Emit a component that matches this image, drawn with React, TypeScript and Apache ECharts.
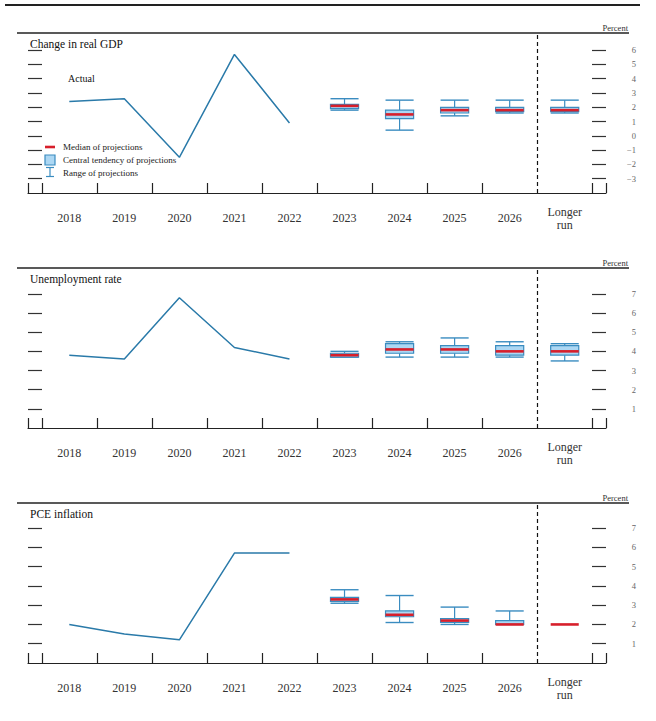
import React, { useEffect, useRef } from 'react';
import * as echarts from 'echarts';

const FONT = '"Liberation Serif", "Times New Roman", serif';

const categories = ['2018', '2019', '2020', '2021', '2022', '2023', '2024', '2025', '2026', 'Longer\nrun'];
const actualIdx = [0, 1, 2, 3, 4];
const projIdx = [5, 6, 7, 8, 9];

// Change in real GDP
const gdpActual = [2.4, 2.6, -1.5, 5.7, 0.9];
const gdpMedian = [2.1, 1.5, 1.8, 1.8, 1.8];
const gdpCTLow = [1.9, 1.2, 1.6, 1.7, 1.7];
const gdpCTHigh = [2.2, 1.8, 2.0, 2.0, 2.0];
const gdpRangeLow = [1.8, 0.4, 1.4, 1.6, 1.6];
const gdpRangeHigh = [2.6, 2.5, 2.5, 2.5, 2.5];
const gdpTicks = [-3, -2, -1, 0, 1, 2, 3, 4, 5, 6];

// Unemployment rate
const unActual = [3.8, 3.6, 6.8, 4.2, 3.6];
const unMedian = [3.8, 4.1, 4.1, 4.0, 4.0];
const unCTLow = [3.7, 3.9, 3.9, 3.8, 3.8];
const unCTHigh = [3.9, 4.4, 4.3, 4.3, 4.3];
const unRangeLow = [3.7, 3.7, 3.7, 3.7, 3.5];
const unRangeHigh = [4.0, 4.5, 4.7, 4.5, 4.4];
const unTicks = [1, 2, 3, 4, 5, 6, 7];

// PCE inflation
const pceActual = [2.0, 1.5, 1.2, 5.7, 5.7];
const pceMedian = [3.3, 2.5, 2.2, 2.0, 2.0];
const pceCTLow = [3.2, 2.4, 2.1, 2.0, null];
const pceCTHigh = [3.4, 2.7, 2.3, 2.2, null];
const pceRangeLow = [3.1, 2.1, 2.0, 2.0, null];
const pceRangeHigh = [3.8, 3.5, 2.9, 2.7, null];
const pceTicks = [1, 2, 3, 4, 5, 6, 7];

const xTicks = [-0.75, -0.5, 0.5, 1.5, 2.5, 3.5, 4.5, 5.5, 6.5, 7.5, 9.5, 9.75];

const LINE = '#2a7aa9';
const BLUE = '#3a8cc0';
const FILL = '#acd7f3';
const RED = '#d71f2b';

const panels = [
  { title: 'Change in real GDP', top: 33, min: -4, max: 7.2, ticks: gdpTicks, actual: gdpActual, med: gdpMedian, cl: gdpCTLow, ch: gdpCTHigh, rl: gdpRangeLow, rh: gdpRangeHigh },
  { title: 'Unemployment rate', top: 268, min: 0, max: 8.35, ticks: unTicks, actual: unActual, med: unMedian, cl: unCTLow, ch: unCTHigh, rl: unRangeLow, rh: unRangeHigh },
  { title: 'PCE inflation', top: 503, min: 0, max: 8.3, ticks: pceTicks, actual: pceActual, med: pceMedian, cl: pceCTLow, ch: pceCTHigh, rl: pceRangeLow, rh: pceRangeHigh },
];

const GRID_H = 160;

const fmtMinus = (v: any) => (Number(v) < 0 ? '\u2212' + Math.abs(Number(v)) : String(v));

const renderProj = (params: any, api: any) => {
  const x = api.value(0);
  const rl = api.value(1), rh = api.value(2), cl = api.value(3), ch = api.value(4), md = api.value(5);
  const w = api.size([1, 0])[0] * 0.255;
  const cx = api.coord([x, md])[0];
  const y = (v: number) => api.coord([x, v])[1];
  const ln = (x1: number, y1: number, x2: number, y2: number, stroke: string, lw: number) => ({
    type: 'line', shape: { x1, y1, x2, y2 }, style: { stroke, lineWidth: lw },
  });
  const children: any[] = [];
  if (rh > rl) {
    children.push(ln(cx, y(rh), cx, y(ch), BLUE, 1.2));
    children.push(ln(cx, y(cl), cx, y(rl), BLUE, 1.2));
    children.push(ln(cx - w, y(rh), cx + w, y(rh), BLUE, 1.4));
    children.push(ln(cx - w, y(rl), cx + w, y(rl), BLUE, 1.4));
  }
  if (ch > cl) {
    children.push({
      type: 'rect',
      shape: { x: cx - w, y: y(ch), width: 2 * w, height: y(cl) - y(ch) },
      style: { fill: FILL, stroke: BLUE, lineWidth: 1.2 },
    });
  }
  children.push(ln(cx - w, y(md), cx + w, y(md), RED, 2.6));
  return { type: 'group', children };
};

function buildOption() {
  const grid: any[] = [];
  const xAxis: any[] = [];
  const yAxis: any[] = [];
  const series: any[] = [];
  const graphic: any[] = [];

  graphic.push({ type: 'line', shape: { x1: 5, y1: 5, x2: 640, y2: 5 }, style: { stroke: '#222', lineWidth: 2 } });

  panels.forEach((p, i) => {
    grid.push({ left: 28, right: 50, top: p.top, height: GRID_H });
    xAxis.push({
      type: 'value', gridIndex: i, min: -0.75, max: 9.75, position: 'bottom',
      splitLine: { show: false },
      axisLine: { show: true, onZero: false, lineStyle: { color: '#222', width: 1.2 } },
      axisTick: { show: true, inside: true, length: 10, customValues: xTicks, lineStyle: { color: '#222', width: 1.2 } },
      axisLabel: {
        show: true, customValues: categories.map((_, k) => k),
        formatter: (v: number) => categories[Math.round(v)] ?? '',
        fontFamily: FONT, fontSize: 12, color: '#333', lineHeight: 13,
        margin: 25, verticalAlign: 'middle',
      },
    });
    yAxis.push({
      type: 'value', gridIndex: i, position: 'left', min: p.min, max: p.max,
      splitLine: { show: false }, axisLine: { show: false, onZero: false },
      axisTick: { show: true, inside: true, length: 14, customValues: p.ticks, lineStyle: { color: '#333', width: 1.2 } },
      axisLabel: { show: false },
    });
    yAxis.push({
      type: 'value', gridIndex: i, position: 'right', min: p.min, max: p.max,
      splitLine: { show: false }, axisLine: { show: false, onZero: false },
      axisTick: { show: true, inside: true, length: 14, customValues: p.ticks, lineStyle: { color: '#333', width: 1.2 } },
      axisLabel: {
        show: true, customValues: p.ticks, formatter: fmtMinus,
        fontFamily: FONT, fontSize: 8.5, color: '#666', align: 'right', margin: 30,
      },
    });
    series.push({
      type: 'line', xAxisIndex: i, yAxisIndex: 2 * i,
      data: actualIdx.map((k, j) => [k, p.actual[j]]),
      showSymbol: false, symbol: 'none',
      lineStyle: { color: LINE, width: 1.5 },
    });
    series.push({
      type: 'custom', xAxisIndex: i, yAxisIndex: 2 * i,
      renderItem: renderProj,
      encode: { x: 0, y: 5 },
      data: projIdx.map((k, j) => {
        const md = p.med[j];
        return [k, p.rl[j] ?? md, p.rh[j] ?? md, p.cl[j] ?? md, p.ch[j] ?? md, md];
      }),
      markLine: {
        silent: true, symbol: ['none', 'none'], label: { show: false },
        lineStyle: { type: [4, 3], color: '#111', width: 1.2 },
        data: [{ xAxis: 8.5 }],
      },
      z: 3,
    });

    graphic.push({ type: 'line', shape: { x1: 17, y1: p.top, x2: 629, y2: p.top }, style: { stroke: '#222', lineWidth: 1.3 } });
    graphic.push({
      type: 'text', x: 628, y: p.top - 5,
      style: { text: 'Percent', fontFamily: FONT, fontSize: 8.5, fill: '#333', align: 'right', verticalAlign: 'middle' },
    });
    graphic.push({
      type: 'text', x: 30, y: p.top + 11,
      style: { text: p.title, fontFamily: FONT, fontSize: 11.5, fill: '#111', align: 'left', verticalAlign: 'middle' },
    });
  });

  graphic.push({
    type: 'text', x: 68, y: 78,
    style: { text: 'Actual', fontFamily: FONT, fontSize: 10, fill: '#111', align: 'left', verticalAlign: 'middle' },
  });

  // legend
  graphic.push({ type: 'line', shape: { x1: 45, y1: 147, x2: 55, y2: 147 }, style: { stroke: RED, lineWidth: 2.6 } });
  graphic.push({ type: 'rect', shape: { x: 45, y: 155, width: 10, height: 10 }, style: { fill: FILL, stroke: BLUE, lineWidth: 1.2 } });
  graphic.push({ type: 'line', shape: { x1: 50, y1: 167.5, x2: 50, y2: 176.5 }, style: { stroke: BLUE, lineWidth: 1.2 } });
  graphic.push({ type: 'line', shape: { x1: 46, y1: 167.5, x2: 54, y2: 167.5 }, style: { stroke: BLUE, lineWidth: 1.2 } });
  graphic.push({ type: 'line', shape: { x1: 46, y1: 176.5, x2: 54, y2: 176.5 }, style: { stroke: BLUE, lineWidth: 1.2 } });
  const legendTexts = ['Median of projections', 'Central tendency of projections', 'Range of projections'];
  [147, 160, 172.5].forEach((yy, k) => {
    graphic.push({
      type: 'text', x: 63, y: yy,
      style: { text: legendTexts[k], fontFamily: FONT, fontSize: 9, fill: '#222', align: 'left', verticalAlign: 'middle' },
    });
  });

  return { animation: false, backgroundColor: '#fff', grid, xAxis, yAxis, series, graphic };
}

export default function App() {
  const ref = useRef<HTMLDivElement>(null);
  useEffect(() => {
    const chart = echarts.init(ref.current as HTMLDivElement, null, { renderer: 'svg' });
    chart.setOption(buildOption() as any);
    return () => chart.dispose();
  }, []);
  return <div ref={ref} style={{ position: 'fixed', left: 0, top: 0, width: 656, height: 721, background: '#fff' }} />;
}
